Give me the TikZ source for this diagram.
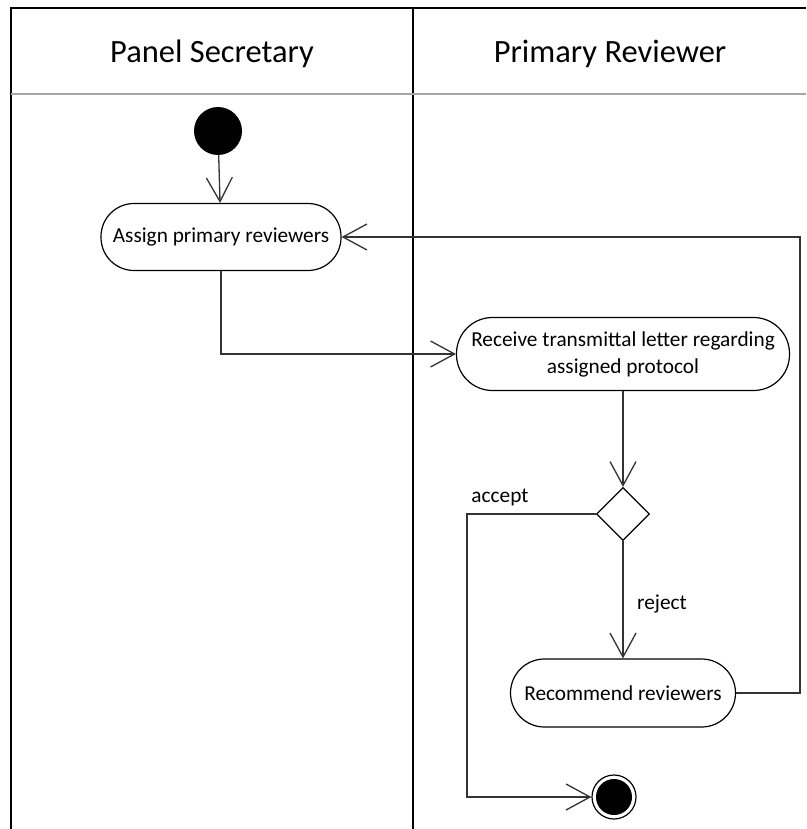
\documentclass[tikz,border=0pt]{standalone}
\usepackage{fontspec}
\setmainfont{Carlito}
\usetikzlibrary{arrows.meta,shapes.geometric}
\tikzset{
  lane/.style={line width=2pt,black},
  sep/.style={line width=2pt,gray!70},
  act/.style={draw,line width=1.2pt,rectangle,align=center,font=\fontsize{21.3}{27}\selectfont,inner sep=0pt},
  flow/.style={line width=1.3pt,draw=black!80,-{Straight Barb[length=24pt,width=26pt,line width=1.3pt]}},
  lbl/.style={font=\fontsize{21.3}{27}\selectfont},
  hdr/.style={font=\fontsize{32.5}{38}\selectfont}
}
\begin{document}
\begin{tikzpicture}[x=1pt,y=-1pt]
\useasboundingbox (0,0) rectangle (806,829);
% swimlanes
\draw[lane] (11,829) -- (11,8) -- (806,8);
\draw[lane] (413,8) -- (413,829);
\draw[sep] (11,94) -- (806,94);
\node[hdr] (h1) at (212,54) {Panel Secretary};
\node[hdr] (h2) at (610,54) {Primary Reviewer};
% nodes
\node[circle,fill=black,minimum size=48pt,inner sep=0] (start) at (218,131) {};
\node[act,minimum width=240pt,minimum height=67pt,rounded corners=33pt] (assign) at (221,237) {Assign primary reviewers};
\node[act,minimum width=333pt,minimum height=73pt,rounded corners=36pt] (recv) at (623,354) {Receive transmittal letter regarding\\assigned protocol};
\node[diamond,draw,line width=1.2pt,minimum width=53pt,minimum height=53pt,inner sep=0] (dec) at (623,514) {};
\node[act,minimum width=225pt,minimum height=68pt,rounded corners=34pt] (rec) at (623,693) {Recommend reviewers};
\node[circle,draw,line width=1.2pt,minimum size=44pt,inner sep=0] (fin) at (614,797) {};
\node[circle,fill=black,minimum size=36pt,inner sep=0] (finin) at (fin) {};
\coordinate (c1) at (221,354);
\coordinate (c2) at (467,514);
\coordinate (c3) at (467,797);
\coordinate (c4) at (800,693);
\coordinate (c5) at (800,237);
% connectors
\draw[flow] (start) -- (assign);
\draw[flow] (assign.south) -- (c1) -- (recv.west);
\draw[flow] (recv) -- (dec);
\draw[flow] (dec.west) -- (c2) -- (c3) -- (fin.west);
\draw[flow] (dec) -- (rec);
\draw[flow] (rec.east) -- (c4) -- (c5) -- (assign.east);
\node[lbl] (acc) at (500,497) {accept};
\node[lbl] (rej) at (662,604) {reject};
\end{tikzpicture}
\end{document}
